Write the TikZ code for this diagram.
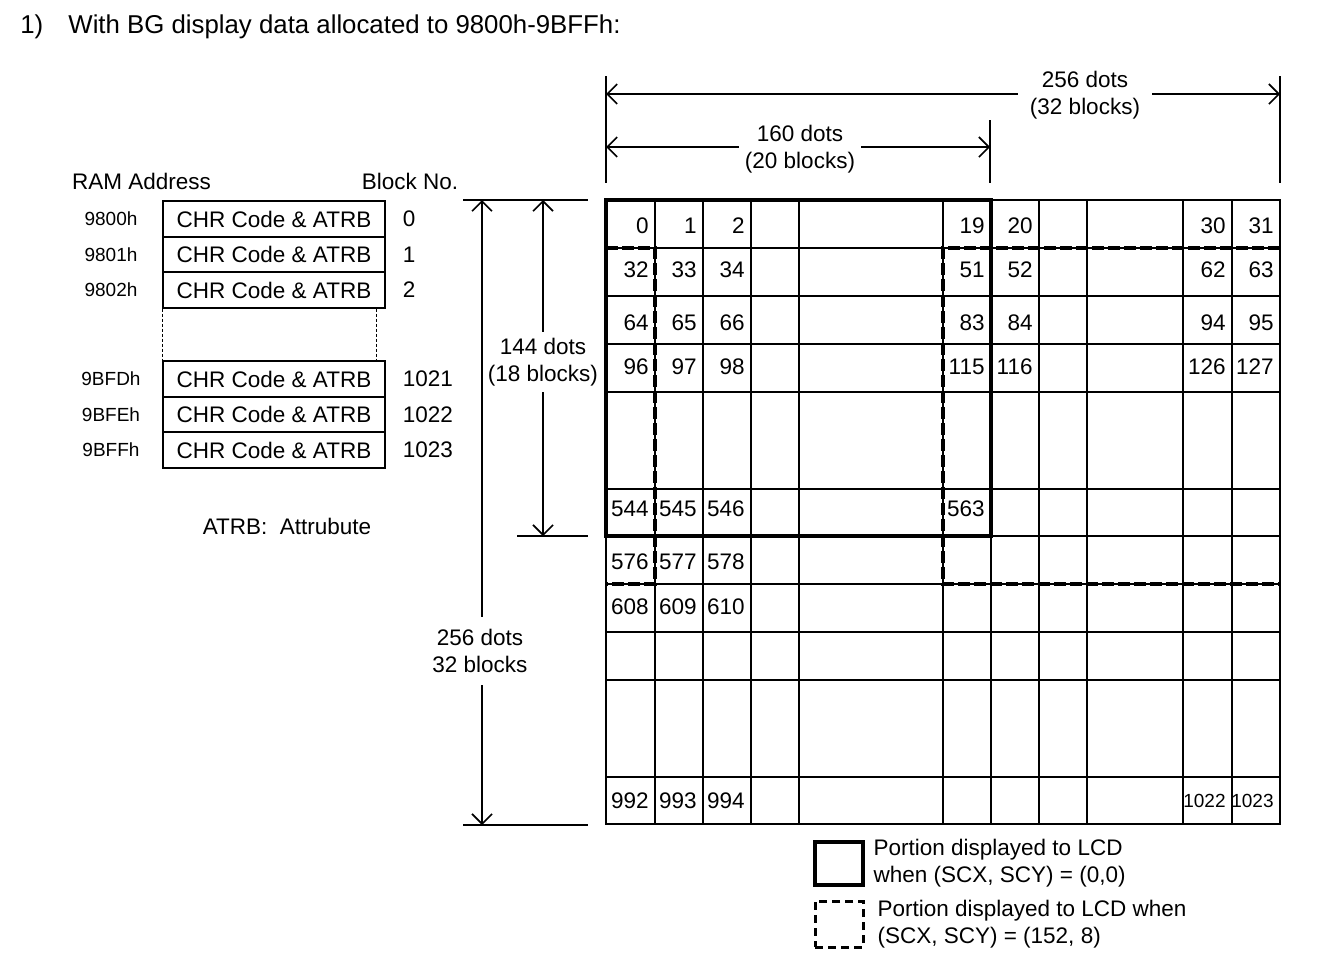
\documentclass[tikz,border=0pt]{standalone}
\usepackage{fontspec}
\setmainfont{Liberation Sans}
\usetikzlibrary{arrows.meta,positioning}

\begin{document}
\begin{tikzpicture}[>={Straight Barb[length=5pt,width=10pt]},x=0.5pt,y=-0.5pt,
    font=\fontsize{11.25}{13.5}\selectfont]
  \tikzstyle{grid}=[line width=0.9pt,line cap=rect]
  \tikzstyle{num}=[anchor=east,inner sep=0pt]
  \tikzstyle{numsmall}=[num,font=\fontsize{9.5}{11}\selectfont]
  \tikzstyle{rambox}=[draw,line width=0.8pt,minimum width=111pt,minimum height=17.75pt,inner sep=0pt]
  \tikzstyle{addr}=[font=\fontsize{9.5}{11}\selectfont]
  \tikzstyle{dim}=[line width=0.8pt,->]
  \tikzstyle{ext}=[line width=0.8pt]
  \tikzstyle{dimlabel}=[align=center,inner sep=3pt]
  \tikzstyle{lcd}=[line width=2.3pt]
  \tikzstyle{scroll}=[line width=2.3pt,dash pattern=on 6pt off 2pt]
  \useasboundingbox (0,0) rectangle (1322,954);

  % title
  \node[anchor=base west,inner sep=0pt,font=\fontsize{12.9}{15}\selectfont] (item) at (20,33) {1)};
  \node[anchor=base west,inner sep=0pt,font=\fontsize{12.9}{15}\selectfont] (title) at (68,33) {With BG display data allocated to 9800h-9BFFh:};

  % BG map in RAM
  \node (ramhead) at (141.5,181) {RAM Address};
  \node (blkhead) at (410,181) {Block No.};
  \node[rambox] (ram0) at (274,219) {CHR Code \& ATRB};
  \node[rambox,below=-0.8pt of ram0] (ram1) {CHR Code \& ATRB};
  \node[rambox,below=-0.8pt of ram1] (ram2) {CHR Code \& ATRB};
  \node[rambox] (ram1021) at (274,379) {CHR Code \& ATRB};
  \node[rambox,below=-0.8pt of ram1021] (ram1022) {CHR Code \& ATRB};
  \node[rambox,below=-0.8pt of ram1022] (ram1023) {CHR Code \& ATRB};
  \draw[line width=0.6pt,dash pattern=on 1.5pt off 1pt] (ram2.south west) -- (ram1021.north west);
  \draw[line width=0.6pt,dash pattern=on 1.5pt off 1pt] ([xshift=-4.5pt]ram2.south east) -- ([xshift=-4.5pt]ram1021.north east);
  \coordinate (addrcol) at (111,0);
  \foreach \n/\a in {0/9800h,1/9801h,2/9802h,1021/9BFDh,1022/9BFEh,1023/9BFFh}{
    \node[addr] (a\n) at (ram\n -| addrcol) {\a};
    \node[right=5pt of ram\n] (n\n) {\n};
  }
  \node (atrb) at (287,526) {ATRB:~~Attrubute};

  % 32x32 block map
  \foreach \x in {606,655,703,751,799,943,991,1039,1087,1183,1232,1280}
    \draw[grid] (\x,200) -- (\x,824);
  \foreach \y in {200,248,296,344,392,489,536,584,632,680,777,824}
    \draw[grid] (606,\y) -- (1280,\y);
  \foreach \n/\x in {0/655,1/703,2/751,19/991,20/1039,30/1232,31/1280}
    \node[num] (b\n) at (\x-6,226) {\n};
  \foreach \n/\x in {32/655,33/703,34/751,51/991,52/1039,62/1232,63/1280}
    \node[num] (b\n) at (\x-6,270) {\n};
  \foreach \n/\x in {64/655,65/703,66/751,83/991,84/1039,94/1232,95/1280}
    \node[num] (b\n) at (\x-6,323) {\n};
  \foreach \n/\x in {96/655,97/703,98/751,115/991,116/1039,126/1232,127/1280}
    \node[num] (b\n) at (\x-6,367) {\n};
  \foreach \n/\x in {544/655,545/703,546/751,563/991}
    \node[num] (b\n) at (\x-6,509) {\n};
  \foreach \n/\x in {576/655,577/703,578/751}
    \node[num] (b\n) at (\x-6,562) {\n};
  \foreach \n/\x in {608/655,609/703,610/751}
    \node[num] (b\n) at (\x-6,607) {\n};
  \foreach \n/\x in {992/655,993/703,994/751}
    \node[num] (b\n) at (\x-6,801) {\n};
  \node[numsmall] (b1022) at (1226,801) {1022};
  \node[numsmall] (b1023) at (1274,801) {1023};

  % LCD windows
  \draw[lcd] (606,200) rectangle (991,536);
  \draw[scroll] (606,248) -- (655,248) -- (655,584) -- (606,584);
  \draw[scroll] (1280,248) -- (943,248) -- (943,584) -- (1280,584);

  % dimensions
  \draw[ext] (606,76) -- (606,183) (1280,76) -- (1280,183) (990,120) -- (990,183);
  \coordinate (h256l) at (606,94);
  \coordinate (h256r) at (1280,94);
  \node[dimlabel,inner xsep=6pt] (l256h) at (1085,95) {256 dots\\(32 blocks)};
  \draw[dim] (h256l -| l256h.west) -- (h256l);
  \draw[dim] (h256r -| l256h.east) -- (h256r);
  \coordinate (h160l) at (606,147);
  \coordinate (h160r) at (990,147);
  \node[dimlabel] (l160) at (800,149) {160 dots\\(20 blocks)};
  \draw[dim] (h160l -| l160.west) -- (h160l);
  \draw[dim] (h160r -| l160.east) -- (h160r);

  \draw[ext] (463,200) -- (588,200) (517,536) -- (588,536) (463,825) -- (588,825);
  \coordinate (v144t) at (543,200);
  \coordinate (v144b) at (543,536);
  \node[dimlabel] (l144) at (543,362) {144 dots\\(18 blocks)};
  \draw[dim] (v144t |- l144.north) -- (v144t);
  \draw[dim] (v144b |- l144.south) -- (v144b);
  \coordinate (v256t) at (482,200);
  \coordinate (v256b) at (482,825);
  \node[dimlabel,inner ysep=6pt] (l256v) at (480,651) {256 dots\\32 blocks};
  \draw[dim] (v256t |- l256v.north) -- (v256t);
  \draw[dim] (v256b |- l256v.south) -- (v256b);

  % legend
  \node[draw,line width=1.6pt,minimum width=24pt,minimum height=21.5pt,inner sep=0pt] (legsolid) at (839,863.5) {};
  \node[right=1pt of legsolid,align=left] (legsolidtxt) {Portion displayed to LCD\\when (SCX, SCY) = (0,0)};
  \node[draw,line width=1.5pt,dash pattern=on 4pt off 2.5pt,minimum width=24pt,minimum height=23pt,inner sep=0pt] (legdash) at (839,924) {};
  \node[right=3pt of legdash,align=left] (legdashtxt) {Portion displayed to LCD when\\(SCX, SCY) = (152, 8)};
\end{tikzpicture}
\end{document}
